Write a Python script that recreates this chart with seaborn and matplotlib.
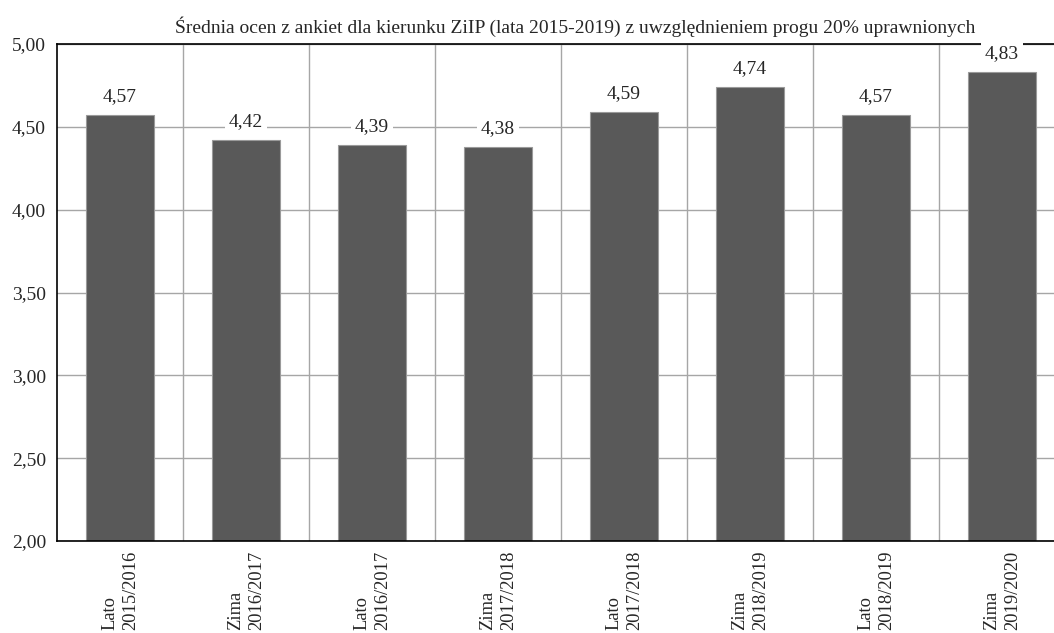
import numpy as np
import pandas as pd
import seaborn as sns
import matplotlib.pyplot as plt
from matplotlib.ticker import FuncFormatter, FixedLocator

semesters = ['Lato\n2015/2016', 'Zima\n2016/2017', 'Lato\n2016/2017', 'Zima\n2017/2018',
             'Lato\n2017/2018', 'Zima\n2018/2019', 'Lato\n2018/2019', 'Zima\n2019/2020']
scores = [4.57, 4.42, 4.39, 4.38, 4.59, 4.74, 4.57, 4.83]
title = 'Średnia ocen z ankiet dla kierunku ZiIP (lata 2015-2019) z uwzględnieniem progu 20% uprawnionych'

sns.set_style('white')
plt.rcParams['font.family'] = ['Liberation Serif', 'DejaVu Serif']

df = pd.DataFrame({'semestr': semesters, 'ocena': scores})

fig = plt.figure(figsize=(10.54, 6.33), dpi=100)
ax = fig.add_axes([0.0541, 0.1453, 0.9564, 0.7852])

sns.barplot(data=df, x='semestr', y='ocena', color='#595959', saturation=1,
            width=0.54, edgecolor='#9a9a9a', linewidth=0.8, ax=ax)

ax.set_ylim(2, 5)
ax.set_xlim(-0.5, 7.5)
ax.set_yticks(np.arange(2, 5.01, 0.5))
ax.yaxis.set_major_formatter(FuncFormatter(lambda v, _: f'{v:.2f}'.replace('.', ',')))
ax.xaxis.set_minor_locator(FixedLocator(np.arange(0.5, 7.6, 1)))
ax.set_axisbelow(True)
ax.grid(axis='y', which='major', color='#a6a6a6', linewidth=1)
ax.grid(axis='x', which='minor', color='#a6a6a6', linewidth=1)
ax.grid(axis='x', which='major', visible=False)

ax.tick_params(axis='y', length=0, pad=8, labelsize=14)
ax.tick_params(axis='x', which='both', length=0, pad=7, labelsize=13.3)
for lbl in ax.get_xticklabels():
    lbl.set_rotation(90)
    lbl.set_multialignment('left')
    lbl.set_va('top')
    lbl.set_ha('center')
    lbl.set_linespacing(1.3)

for side in ['left', 'bottom', 'top']:
    ax.spines[side].set_color('black')
    ax.spines[side].set_linewidth(1.2)
ax.spines['right'].set_visible(False)

ax.bar_label(ax.containers[0], labels=[f'{v:.2f}'.replace('.', ',') for v in scores],
             padding=7, fontsize=14,
             bbox=dict(facecolor='white', edgecolor='none', pad=3))

ax.set_xlabel('')
ax.set_ylabel('')
fig.text(575 / 1054, 1 - 27 / 633, title, ha='center', va='center', fontsize=14)

plt.savefig('out.png', dpi=100)
